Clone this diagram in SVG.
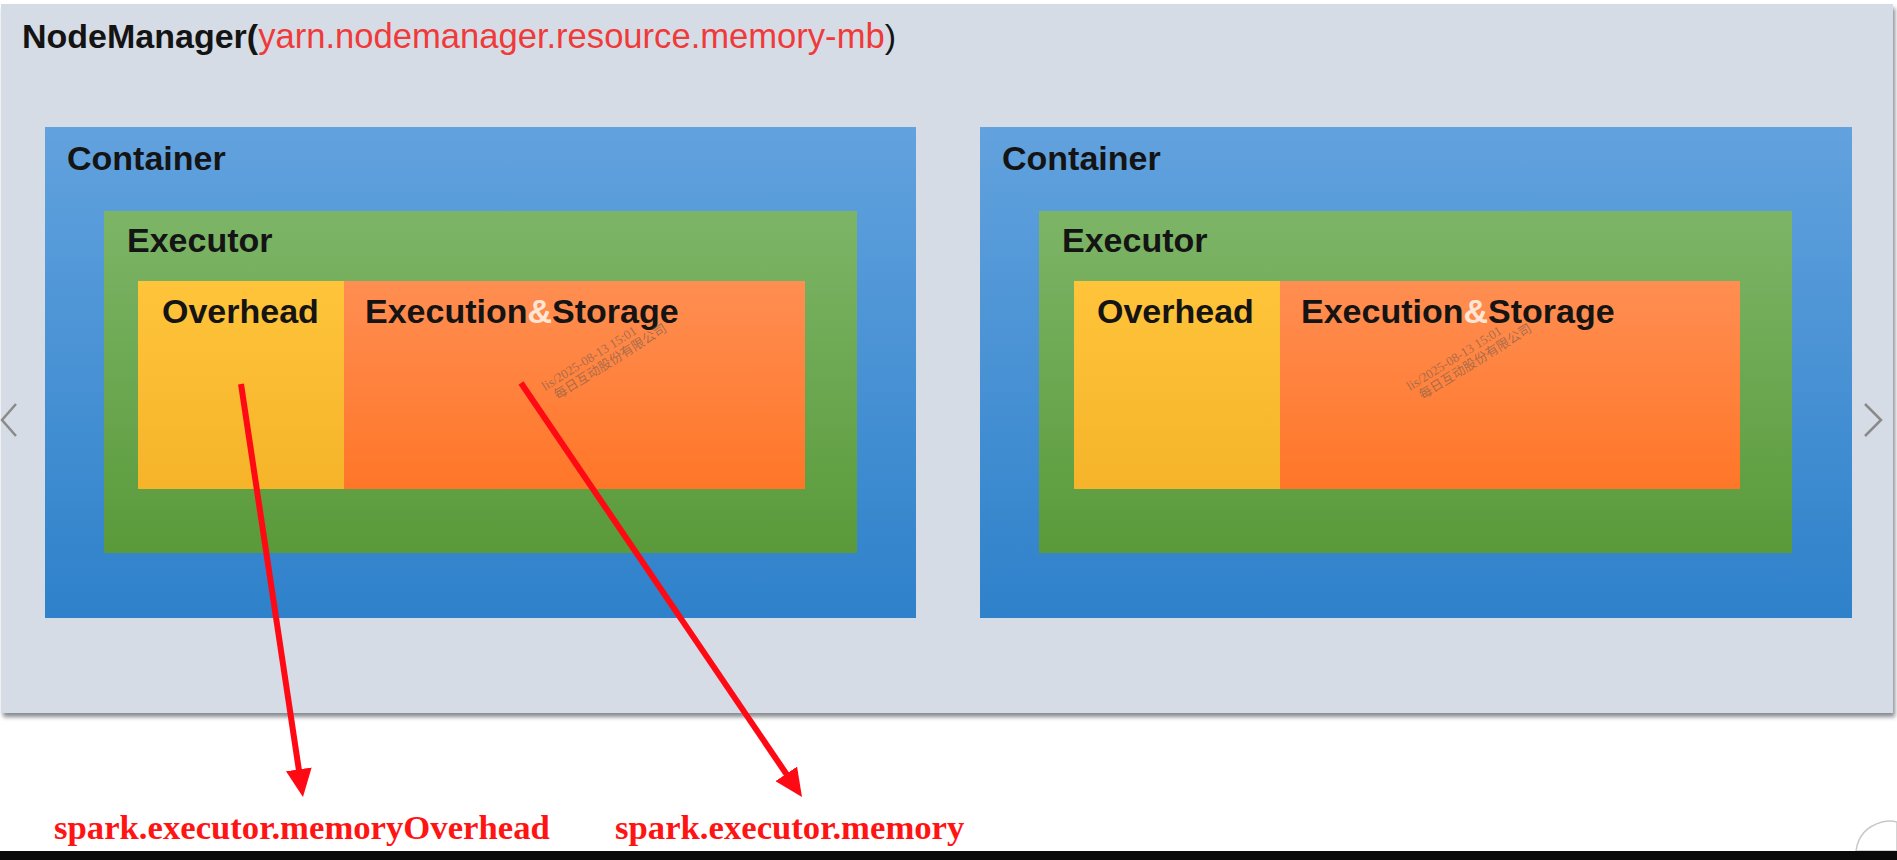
<svg xmlns="http://www.w3.org/2000/svg" width="1897" height="860" viewBox="0 0 1897 860">
  <style>
    .lbl { font-family: "Liberation Sans", Arial, sans-serif; font-weight: bold; font-size: 34px; fill: #141414; }
    .amp { fill: #ffe6d6; }
    .param { font-family: "Liberation Serif", "Times New Roman", serif; font-weight: bold; font-size: 34.7px; fill: #ff1414; }
    .wm { font-family: "Liberation Serif", "Noto Sans CJK SC", serif; font-size: 13px; fill: #6e5a50; fill-opacity: 0.6; }
    .wmc { font-family: "Noto Sans CJK SC", sans-serif; font-size: 13px; fill: #6e5a50; fill-opacity: 0.6; }
    .arrow { stroke: #ff0a14; stroke-width: 6; fill: none; }
    .chev { stroke: #8a8a8a; stroke-width: 2.5; fill: none; }
  </style>
  <defs>
    <linearGradient id="gBlue" x1="0" y1="0" x2="0" y2="1">
      <stop offset="0" stop-color="#62a2de"/>
      <stop offset="1" stop-color="#2e81ca"/>
    </linearGradient>
    <linearGradient id="gGreen" x1="0" y1="0" x2="0" y2="1">
      <stop offset="0" stop-color="#7db567"/>
      <stop offset="1" stop-color="#5a9a3a"/>
    </linearGradient>
    <linearGradient id="gYellow" x1="0" y1="0" x2="0" y2="1">
      <stop offset="0" stop-color="#ffc43a"/>
      <stop offset="1" stop-color="#f5b42a"/>
    </linearGradient>
    <linearGradient id="gOrange" x1="0" y1="0" x2="0" y2="1">
      <stop offset="0" stop-color="#ff8e52"/>
      <stop offset="1" stop-color="#ff7628"/>
    </linearGradient>
    <filter id="shadow" x="-2%" y="-2%" width="104%" height="106%">
      <feDropShadow dx="2" dy="4" stdDeviation="2" flood-color="#555a60" flood-opacity="0.7"/>
    </filter>
    <marker id="head" viewBox="0 0 28 26" refX="2" refY="13" markerWidth="28" markerHeight="26" markerUnits="userSpaceOnUse" orient="auto">
      <path d="M0,0 L28,13 L0,26 z" fill="#ff0a14"/>
    </marker>
  </defs>

  <rect x="0" y="0" width="1897" height="860" fill="#ffffff"/>

  <g id="nodemanager">
    <rect x="1" y="4" width="1892" height="709" fill="#d6dce5" filter="url(#shadow)"/>
    <text x="22" y="48" class="lbl"><tspan>NodeManager(</tspan><tspan font-weight="normal" fill="#f03a3a" style="font-size:34.6px">yarn.nodemanager.resource.memory-mb</tspan><tspan font-weight="normal">)</tspan></text>
  </g>

  <g id="container1">
    <rect x="45" y="127" width="871" height="491" fill="url(#gBlue)"/>
    <text x="67" y="170" class="lbl">Container</text>
  </g>
  <g id="executor1">
    <rect x="104" y="211" width="753" height="342" fill="url(#gGreen)"/>
    <text x="127" y="252" class="lbl">Executor</text>
  </g>
  <g id="overhead1">
    <rect x="138" y="281" width="206" height="208" fill="url(#gYellow)"/>
    <text x="162" y="323" class="lbl">Overhead</text>
  </g>
  <g id="execstorage1">
    <rect x="344" y="281" width="461" height="208" fill="url(#gOrange)"/>
    <text x="365" y="323" class="lbl">Execution<tspan class="amp">&amp;</tspan>Storage</text>
    <g transform="translate(545,391) rotate(-32)">
      <text x="0" y="0" class="wm">lis/2025-08-13 15:01</text>
      <text x="6" y="14" class="wmc">每日互动股份有限公司</text>
    </g>
  </g>

  <g id="container2">
    <rect x="980" y="127" width="872" height="491" fill="url(#gBlue)"/>
    <text x="1002" y="170" class="lbl">Container</text>
  </g>
  <g id="executor2">
    <rect x="1039" y="211" width="753" height="342" fill="url(#gGreen)"/>
    <text x="1062" y="252" class="lbl">Executor</text>
  </g>
  <g id="overhead2">
    <rect x="1074" y="281" width="206" height="208" fill="url(#gYellow)"/>
    <text x="1097" y="323" class="lbl">Overhead</text>
  </g>
  <g id="execstorage2">
    <rect x="1280" y="281" width="460" height="208" fill="url(#gOrange)"/>
    <text x="1301" y="323" class="lbl">Execution<tspan class="amp">&amp;</tspan>Storage</text>
    <g transform="translate(1410,391) rotate(-32)">
      <text x="0" y="0" class="wm">lis/2025-08-13 15:01</text>
      <text x="6" y="14" class="wmc">每日互动股份有限公司</text>
    </g>
  </g>

  <g id="connectors">
    <line x1="241" y1="384" x2="299.1" y2="771.3" class="arrow" marker-end="url(#head)"/>
    <line x1="521" y1="383" x2="787.4" y2="775.5" class="arrow" marker-end="url(#head)"/>
  </g>

  <g id="label-overhead">
    <text x="54" y="839" class="param">spark.executor.memoryOverhead</text>
  </g>
  <g id="label-memory">
    <text x="615" y="839" class="param">spark.executor.memory</text>
  </g>

  <g id="nav">
    <polyline points="16,404 2,420 16,436" class="chev"/>
    <polyline points="1865,404 1881,420 1865,436" class="chev"/>
    <path d="M1856,851 C1858,835 1868,826 1882,822 C1890,820 1897,822 1897,822 L1897,851 z" fill="#ffffff" stroke="#c8c8c8" stroke-width="1.5"/>
  </g>

  <rect x="0" y="851" width="1897" height="9" fill="#0a0a0a"/>
</svg>
